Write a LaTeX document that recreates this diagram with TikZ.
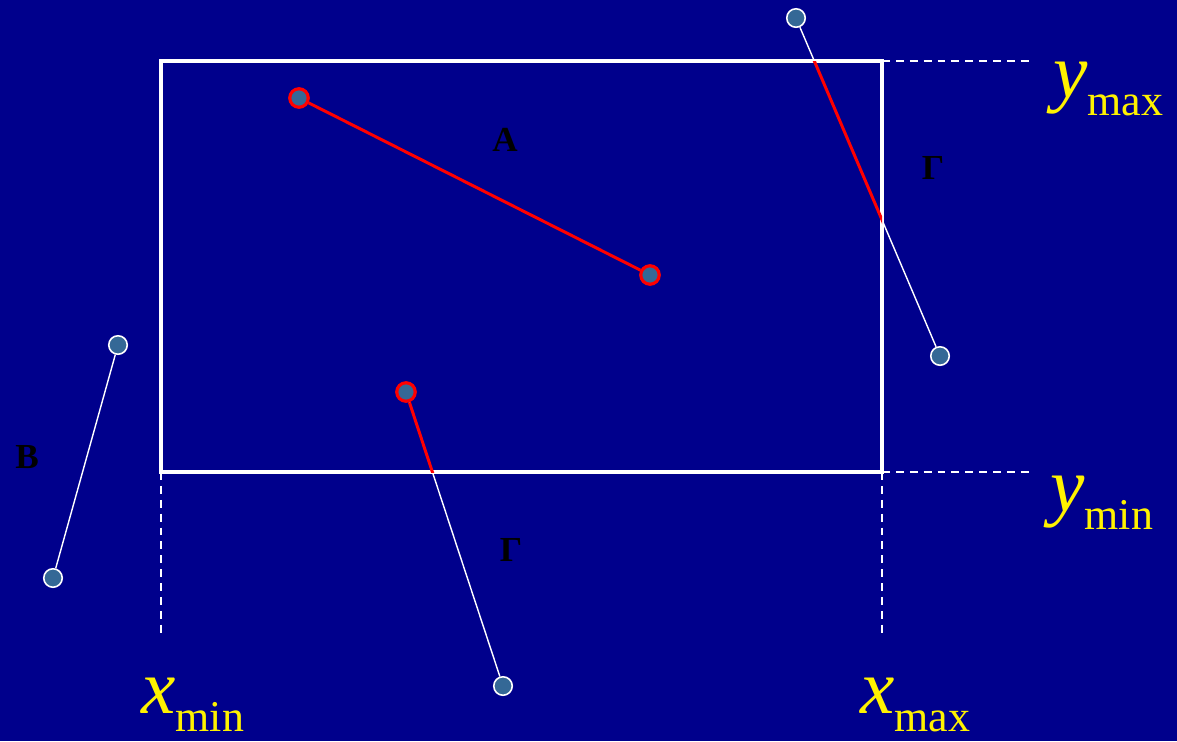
\documentclass[tikz,border=0pt]{standalone}
\usepackage{fontspec}
\setmainfont{Liberation Serif}
\usetikzlibrary{positioning}
\definecolor{navyback}{RGB}{0,0,140}
\definecolor{pointblue}{RGB}{52,104,150}
\newcommand{\limlabel}[2]{\textit{#1}\raisebox{-0.36cm}{\fontsize{25}{25}\selectfont #2}}
\begin{document}
\begin{tikzpicture}[
  x=0.02cm,y=-0.02cm,
  pt/.style={circle,draw=white,fill=pointblue,line width=0.9pt,inner sep=0pt,minimum size=0.37cm},
  ptin/.style={pt,draw=red,line width=1.8pt},
  seg/.style={draw=white,line width=0.8pt},
  cut/.style={draw=red,line width=1.7pt},
  frame/.style={draw=white,line width=2.2pt},
  guide/.style={draw=white,line width=0.8pt,dash pattern=on 4.5pt off 3.4pt},
  region/.style={text=black,font=\fontsize{20}{20}\selectfont\bfseries,inner sep=0pt},
  lim/.style={text=yellow,font=\fontsize{44}{44}\selectfont,inner sep=0pt,anchor=base west}
]
\fill[navyback] (0,0) rectangle (1177,741);
\useasboundingbox (0,0) rectangle (1177,741);
\coordinate (fnw) at (161,61);
\coordinate (fne) at (882,61);
\coordinate (fsw) at (161,472);
\coordinate (fse) at (882,472);
\coordinate (gtop) at (1030,61);
\coordinate (gbot) at (1030,472);
\coordinate (gleft) at (161,635);
\coordinate (gright) at (882,635);
\draw[guide] (fne) -- (gtop);
\draw[guide] (fse) -- (gbot);
\draw[guide] (fsw) -- (gleft);
\draw[guide] (fse) -- (gright);
\draw[frame] (fnw) rectangle (fse);
\node[ptin] (a1) at (299,98) {};
\node[ptin] (a2) at (650,275) {};
\node[pt] (b1) at (118,345) {};
\node[pt] (b2) at (53,578) {};
\node[pt] (c1) at (796,18) {};
\node[pt] (c2) at (940,356) {};
\node[ptin] (d1) at (406,392) {};
\node[pt] (d2) at (503,686) {};
\draw[cut] (a1) -- (a2);
\draw[seg] (b1) -- (b2);
\draw[seg] (c1) -- (c2);
\draw[seg] (d1) -- (d2);
\begin{scope}
  \clip (fnw) rectangle (fse);
  \draw[cut] (c1) -- (c2);
  \draw[cut] (d1) -- (d2);
\end{scope}
\node[region] (la) at (505,140) {Α};
\node[region] (lb) at (27,457) {Β};
\node[region] (lc) at (933,168) {Γ};
\node[region] (ld) at (511,550) {Γ};
\node[lim] (ymax) at (1053,97) {\limlabel{y}{max}};
\node[lim] (ymin) at (1050,511) {\limlabel{y}{min}};
\node[lim] (xmin) at (141,713) {\limlabel{x}{min}};
\node[lim] (xmax) at (860,713) {\limlabel{x}{max}};
\end{tikzpicture}
\end{document}
